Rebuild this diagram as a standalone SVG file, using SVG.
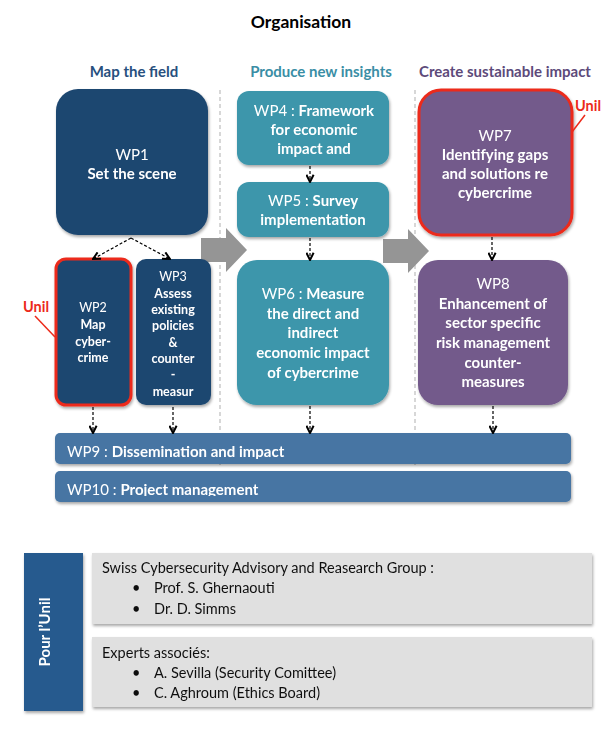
<svg xmlns="http://www.w3.org/2000/svg" width="615" height="736" viewBox="0 0 615 736">
<style>
text{font-family:Lato,"Open Sans","Liberation Sans",sans-serif}
.h{font-weight:bold;font-size:15px;text-anchor:middle}
.t{fill:#fff;font-size:15px;text-anchor:middle}
.s{fill:#fff;font-size:12.5px;text-anchor:middle}
.b{font-weight:bold}
.dark{fill:#1f4770}
.teal{fill:#3c96ab}
.purp{fill:#735a8b}
.bar{fill:#4674a3}
.red{stroke:#ec2a1a;stroke-width:3}
.conn{stroke:#000;stroke-width:1.2;stroke-dasharray:3 2;fill:none;marker-end:url(#ah)}
.sep{stroke:#bdbdbd;stroke-width:1.2;stroke-dasharray:4 3}
.unil{fill:#ec2a1a;font-weight:bold;font-size:14.5px}
.g{fill:#e0e0e0}
.p{font-size:14.5px;fill:#111}
</style>
<defs>
<marker id="ah" viewBox="0 0 10 10" refX="9" refY="5" markerWidth="9" markerHeight="9" orient="auto" markerUnits="userSpaceOnUse">
<path d="M1,1 L9,5 L1,9" fill="none" stroke="#000" stroke-width="2.2"/>
</marker>
<filter id="sh" x="-10%" y="-10%" width="130%" height="130%">
<feGaussianBlur in="SourceAlpha" stdDeviation="1.5"/>
<feOffset dx="1" dy="2" result="o"/>
<feComponentTransfer><feFuncA type="linear" slope="0.35"/></feComponentTransfer>
<feMerge><feMergeNode/><feMergeNode in="SourceGraphic"/></feMerge>
</filter>
<clipPath id="c9"><rect x="55" y="433" width="516" height="26"/></clipPath>
<clipPath id="c10"><rect x="55" y="471" width="516" height="25"/></clipPath>
</defs>
<rect width="615" height="736" fill="#fff"/>
<text x="301" y="28" class="b" style="font-size:17.5px;text-anchor:middle">Organisation</text>
<text x="134" y="77" class="h" fill="#27507e">Map the field</text>
<text x="321" y="77" class="h" fill="#3a8ea5">Produce new insights</text>
<text x="505" y="77" class="h" fill="#5d4a7a">Create sustainable impact</text>
<line x1="220" y1="90" x2="220" y2="466" class="sep"/>
<line x1="415" y1="90" x2="415" y2="466" class="sep"/>
<g id="bigarrows" fill="#959595">
<path d="M201,238 H226 V228 L247,250 L226,272 V262 H201 Z"/>
<path d="M383,239 H408 V229 L429,251 L408,273 V263 H383 Z"/>
</g>
<g id="wp1" filter="url(#sh)"><rect x="56" y="89" width="152" height="146" rx="22" class="dark"/>
<text class="t"><tspan x="132" y="160">WP1</tspan><tspan x="132" y="179" class="b">Set the scene</tspan></text></g>
<g id="wp2" filter="url(#sh)"><rect x="56" y="259" width="75" height="146" rx="10" class="dark red"/>
<text class="s"><tspan x="93" y="312">WP2</tspan><tspan x="93" y="329" class="b">Map</tspan><tspan x="93" y="346" class="b">cyber-</tspan><tspan x="93" y="362" class="b">crime</tspan></text></g>
<g id="wp3" filter="url(#sh)"><rect x="136" y="259" width="75" height="146" rx="10" class="dark"/>
<text class="s"><tspan x="173" y="281">WP3</tspan><tspan x="173" y="298" class="b">Assess</tspan><tspan x="173" y="314" class="b">existing</tspan><tspan x="173" y="330" class="b">policies</tspan><tspan x="173" y="347" class="b">&amp;</tspan><tspan x="173" y="363" class="b">counter</tspan><tspan x="173" y="379" class="b">-</tspan><tspan x="173" y="396" class="b">measur</tspan></text></g>
<g id="wp4" filter="url(#sh)"><rect x="237" y="91" width="152" height="74" rx="12" class="teal"/>
<text class="t"><tspan x="314" y="116">WP4 : <tspan class="b">Framework</tspan></tspan><tspan x="314" y="135" class="b">for economic</tspan><tspan x="314" y="154" class="b">impact and</tspan></text></g>
<g id="wp5" filter="url(#sh)"><rect x="237" y="182" width="152" height="55" rx="12" class="teal"/>
<text class="t"><tspan x="313" y="206">WP5 : <tspan class="b">Survey</tspan></tspan><tspan x="313" y="225" class="b">implementation</tspan></text></g>
<g id="wp6" filter="url(#sh)"><rect x="237" y="260" width="152" height="145" rx="20" class="teal"/>
<text class="t"><tspan x="313" y="299">WP6 : <tspan class="b">Measure</tspan></tspan><tspan x="313" y="319" class="b">the direct and</tspan><tspan x="313" y="338" class="b">indirect</tspan><tspan x="313" y="358" class="b">economic impact</tspan><tspan x="313" y="378" class="b">of cybercrime</tspan></text></g>
<g id="wp7" filter="url(#sh)"><rect x="419" y="90" width="153" height="145" rx="22" class="purp red"/>
<text class="t"><tspan x="495" y="141">WP7</tspan><tspan x="495" y="160" class="b">Identifying gaps</tspan><tspan x="495" y="179" class="b">and solutions re</tspan><tspan x="495" y="198" class="b">cybercrime</tspan></text></g>
<g id="wp8" filter="url(#sh)"><rect x="418" y="260" width="150" height="145" rx="20" class="purp"/>
<text class="t"><tspan x="493" y="289">WP8</tspan><tspan x="493" y="309" class="b">Enhancement of</tspan><tspan x="493" y="328" class="b">sector specific</tspan><tspan x="493" y="348" class="b">risk management</tspan><tspan x="493" y="368" class="b">counter-</tspan><tspan x="493" y="387" class="b">measures</tspan></text></g>
<g id="wp9" filter="url(#sh)"><rect x="55" y="433" width="516" height="31" rx="5" class="bar"/>
<text x="67" y="457" fill="#fff" style="font-size:15px" clip-path="url(#c9)">WP9 : <tspan class="b">Dissemination and impact</tspan></text></g>
<g id="wp10" filter="url(#sh)"><rect x="55" y="471" width="516" height="31" rx="5" class="bar"/>
<text x="67" y="495" fill="#fff" style="font-size:15px" clip-path="url(#c10)">WP10 : <tspan class="b">Project management</tspan></text></g>
<g id="unil-labels">
<text x="575" y="111" class="unil">Unil</text>
<line x1="585" y1="115" x2="572" y2="132" stroke="#ec2a1a" stroke-width="1.5"/>
<text x="23" y="312" class="unil">Unil</text>
<line x1="35" y1="316" x2="55" y2="337" stroke="#ec2a1a" stroke-width="1.5"/>
</g>
<g id="connectors">
<path d="M131,238 L93,259" class="conn"/>
<path d="M131,238 L170,259" class="conn"/>
<path d="M310,166 V182" class="conn"/>
<path d="M310,238 V260" class="conn"/>
<path d="M492,237 V260" class="conn"/>
<path d="M93,407 V433" class="conn"/>
<path d="M173,407 V433" class="conn"/>
<path d="M310,406 V433" class="conn"/>
<path d="M493,406 V433" class="conn"/>
</g>
<g id="pour" filter="url(#sh)"><rect x="24" y="553" width="59" height="158" fill="#255a8e"/>
<text transform="translate(50,632) rotate(-90)" fill="#fff" class="b" style="font-size:15px;text-anchor:middle">Pour l’Unil</text></g>
<g id="group1" filter="url(#sh)"><rect x="92" y="553" width="500" height="71" class="g"/>
<text class="p"><tspan x="102" y="573">Swiss Cybersecurity Advisory and Reasearch Group :</tspan><tspan x="132" y="593">•</tspan><tspan x="154" y="593">Prof. S. Ghernaouti</tspan><tspan x="132" y="614">•</tspan><tspan x="154" y="614">Dr. D. Simms</tspan></text></g>
<g id="group2" filter="url(#sh)"><rect x="92" y="637" width="500" height="70" class="g"/>
<text class="p"><tspan x="102" y="658">Experts associés:</tspan><tspan x="132" y="678">•</tspan><tspan x="154" y="678">A. Sevilla (Security Comittee)</tspan><tspan x="132" y="698">•</tspan><tspan x="154" y="698">C. Aghroum (Ethics Board)</tspan></text></g>
</svg>
